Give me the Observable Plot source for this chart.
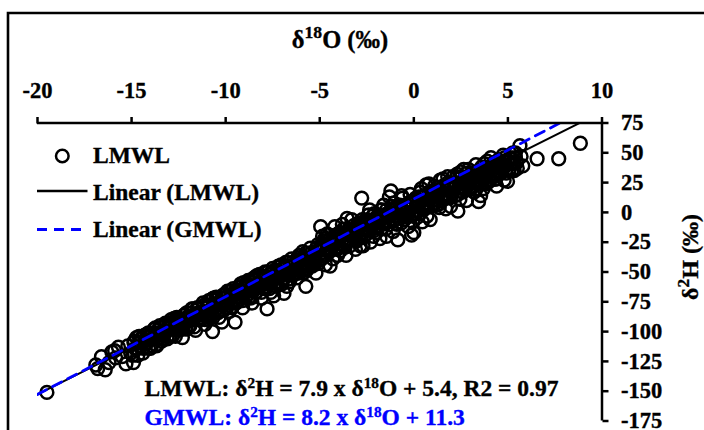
<!DOCTYPE html>
<html><head><meta charset="utf-8">
<script src="https://cdn.jsdelivr.net/npm/d3@7"></script>
<script src="https://cdn.jsdelivr.net/npm/@observablehq/plot@0.6"></script>
<style>body{margin:0;background:#fff} svg text{stroke:currentColor;stroke-width:0.35px}</style>
</head><body><div id="chart"></div>
<script>
const xTicks = [-20, -15, -10, -5, 0, 5, 10];
const yTicks = [75, 50, 25, 0, -25, -50, -75, -100, -125, -150, -175];
const xTitle = "δ18O (‰)";
const yTitle = "δ2H (‰)";
const legendLabels = ["LMWL", "Linear (LMWL)", "Linear (GMWL)"];
const fitNames = ["LMWL", "GMWL"];
const fitSlopes = [7.9, 8.2];
const fitIntercepts = [5.4, 11.3];
const equationTexts = ["LMWL: δ2H = 7.9 x δ18O + 5.4, R2 = 0.97", "GMWL: δ2H = 8.2 x δ18O + 11.3"];
// [δ18O, δ2H] samples: band edges and outliers
const samplesEdge = [
[-19.5,-151],
[-16.9,-128],[-16.8,-131],[-16.6,-121],[-16.4,-132],[-16.2,-126],[-16.05,-117],
[-15.9,-116],[-15.85,-122],[-15.7,-113],[-15.5,-121],[-15.3,-127],[-15.2,-112],[-15.05,-118],
[-14.9,-126],[-14.85,-108],[-14.7,-114],[-14.6,-104],[-14.5,-112],[-14.4,-118],[-14.3,-103],[-14.2,-110],[-14.1,-101],[-14.0,-114],
[-13.9,-106],[-13.8,-98],[-13.7,-111],[-13.6,-102],[-13.5,-95],[-13.4,-108],[-13.3,-99],[-13.2,-93],[-13.1,-104],[-13.0,-97],[-13.45,-101],[-13.75,-104],
[-12.9,-90],[-12.8,-103],[-12.7,-95],[-12.6,-88],[-12.5,-99],[-12.4,-92],[-12.3,-105],[-12.2,-86],[-12.1,-96],[-12.0,-89],[-12.65,-91],[-12.35,-97],[-12.05,-84],
[-11.9,-95],[-11.8,-81],[-11.7,-88],[-11.6,-99],[-11.5,-80],[-11.4,-90],[-11.3,-84],[-11.2,-76],[-11.1,-94],[-11.0,-79],[-11.85,-90],[-11.55,-85],[-11.25,-89],[-11.05,-86],
[-10.9,-74],[-10.8,-87],[-10.7,-100],[-10.6,-78],[-10.5,-71],[-10.4,-84],[-10.3,-76],[-10.2,-92],[-10.1,-69],[-10.0,-80],[-10.95,-83],[-10.65,-72],[-10.35,-88],[-10.15,-78],[-10.55,-82],
[-9.9,-66],[-9.8,-83],[-9.7,-71],[-9.6,-64],[-9.5,-92],[-9.45,-76],[-9.3,-68],[-9.2,-60],[-9.1,-80],[-9.0,-66],[-9.85,-76],[-9.65,-79],[-9.35,-74],[-9.15,-71],[-9.55,-67],[-9.05,-59],
[-8.9,-70],[-8.8,-57],[-8.7,-64],[-8.6,-76],[-8.5,-55],[-8.4,-67],[-8.3,-60],[-8.2,-52],[-8.1,-72],[-8.0,-63],[-8.95,-61],[-8.75,-71],[-8.55,-64],[-8.35,-53],[-8.15,-59],[-8.05,-55],
[-7.9,-50],[-7.8,-81],[-7.7,-60],[-7.6,-67],[-7.5,-47],[-7.4,-56],[-7.3,-62],[-7.2,-45],[-7.1,-53],[-7.0,-60],[-7.85,-64],[-7.65,-52],[-7.45,-70],[-7.25,-50],[-7.05,-44],[-7.55,-58],
[-6.9,-68],[-6.8,-42],[-6.7,-52],[-6.6,-58],[-6.5,-39],[-6.4,-49],[-6.3,-43],[-6.2,-55],[-6.1,-36],[-6.0,-47],[-6.95,-56],[-6.75,-62],[-6.55,-45],[-6.35,-52],[-6.15,-40],[-6.05,-44],
[-5.9,-33],[-5.8,-50],[-5.74,-62],[-5.6,-39],[-5.5,-30],[-5.4,-45],[-5.3,-36],[-5.2,-51],[-5.1,-27],[-5.0,-40],[-5.95,-44],[-5.65,-47],[-5.45,-34],[-5.25,-42],[-5.05,-31],[-5.85,-38],
[-4.95,-12],[-4.9,-39],[-4.8,-28],[-4.7,-44],[-4.6,-18],[-4.5,-33],[-4.4,-25],[-4.3,-39],[-4.2,-12],[-4.1,-30],[-4.0,-20],[-4.85,-20],[-4.65,-32],[-4.45,-45],[-4.25,-22],[-4.05,-36],[-4.75,-24],
[-3.9,-32],[-3.8,-10],[-3.7,-25],[-3.6,-36],[-3.5,-16],[-3.4,-28],[-3.3,-6],[-3.2,-21],[-3.1,-31],[-3.0,-12],[-3.95,-17],[-3.75,-19],[-3.55,-5],[-3.45,-22],[-3.25,-14],[-3.05,-24],[-3.65,-29],
[-2.9,-20],[-2.77,12],[-2.7,-28],[-2.6,-7],[-2.5,-18],[-2.4,-2],[-2.3,-25],[-2.2,-11],[-2.1,-1],[-2.0,-17],[-2.95,-9],[-2.85,-28],[-2.65,-14],[-2.45,-8],[-2.35,2],[-2.15,-20],[-2.05,-6],
[-1.9,-3],[-1.8,-22],[-1.7,-9],[-1.6,6],[-1.5,-14],[-1.4,-1],[-1.3,13],[-1.22,18],[-1.1,-16],[-1.0,4],[-1.95,-12],[-1.75,2],[-1.55,-4],[-1.45,-20],[-1.35,-7],[-1.15,-1],[-1.05,8],
[-0.9,-10],[-0.85,-23],[-0.7,2],[-0.6,12],[-0.5,-6],[-0.4,6],[-0.3,-12],[-0.2,15],[-0.12,-19],[0.0,1],[-0.95,3],[-0.75,-5],[-0.65,14],[-0.55,0],[-0.35,-3],[-0.15,9],[-0.05,-8],[0.0,-17],
[0.1,12],[0.2,-4],[0.3,8],[0.4,20],[0.5,2],[0.6,14],[0.7,-3],[0.8,24],[0.87,-6],[1.0,10],[0.15,1],[0.35,17],[0.45,-8],[0.55,8],[0.65,23],[0.75,5],[0.95,18],
[1.1,22],[1.2,6],[1.3,15],[1.4,27],[1.5,10],[1.6,20],[1.7,3],[1.8,30],[1.9,13],[2.0,22],[1.15,13],[1.35,4],[1.55,28],[1.65,12],[1.85,22],[1.95,5],
[2.1,30],[2.2,14],[2.34,1],[2.4,24],[2.5,34],[2.6,17],[2.7,27],[2.8,10],[2.9,36],[3.0,21],[2.15,22],[2.3,32],[2.45,11],[2.65,36],[2.75,19],[2.95,29],
[3.1,33],[3.2,17],[3.3,40],[3.44,9],[3.5,27],[3.6,38],[3.7,20],[3.8,31],[3.9,43],[4.0,26],[3.15,25],[3.35,31],[3.55,14],[3.75,41],[3.85,24],[3.95,35],
[4.1,46],[4.2,30],[4.3,39],[4.4,22],[4.5,44],[4.6,33],[4.7,41],[4.8,27],[4.9,36],[4.98,26],[4.15,35],[4.35,28],[4.55,38],[4.75,48],[4.85,42],
[5.1,45],[5.2,35],[5.32,41],[5.5,37],[5.64,56],[5.7,47],[5.4,50],[5.79,39],
[6.55,45],[7.7,45],[8.85,58]
];
// [δ18O, δ2H] samples in the dense core of the band
const samplesCore = [
[-14.95,-120],[-14.88,-109],[-14.81,-114],[-14.74,-105],[-14.67,-120],[-14.6,-109],[-14.53,-113],
[-14.45,-105],[-14.38,-114],[-14.31,-108],[-14.24,-110],[-14.17,-102],[-14.1,-114],[-14.03,-103],
[-13.95,-112],[-13.88,-101],[-13.81,-106],[-13.74,-97],[-13.67,-112],[-13.6,-101],[-13.53,-105],
[-13.45,-97],[-13.38,-106],[-13.31,-100],[-13.24,-102],[-13.17,-94],[-13.1,-106],[-13.03,-96],
[-12.95,-104],[-12.88,-93],[-12.81,-98],[-12.74,-89],[-12.67,-104],[-12.6,-93],[-12.53,-98],
[-12.45,-89],[-12.38,-98],[-12.31,-92],[-12.24,-94],[-12.17,-86],[-12.1,-98],[-12.03,-88],
[-11.95,-96],[-11.88,-85],[-11.81,-90],[-11.74,-81],[-11.67,-96],[-11.6,-85],[-11.53,-90],
[-11.45,-81],[-11.38,-90],[-11.31,-84],[-11.24,-86],[-11.17,-78],[-11.1,-90],[-11.03,-80],
[-10.95,-88],[-10.88,-78],[-10.81,-82],[-10.74,-73],[-10.67,-88],[-10.6,-77],[-10.53,-82],
[-10.45,-73],[-10.38,-83],[-10.31,-76],[-10.24,-78],[-10.17,-70],[-10.1,-82],[-10.03,-72],
[-9.95,-80],[-9.88,-70],[-9.81,-74],[-9.74,-66],[-9.67,-80],[-9.6,-69],[-9.53,-74],
[-9.45,-65],[-9.38,-75],[-9.31,-68],[-9.24,-71],[-9.17,-62],[-9.1,-74],[-9.03,-64],
[-8.95,-72],[-8.88,-62],[-8.81,-66],[-8.74,-58],[-8.67,-72],[-8.6,-62],[-8.53,-66],
[-8.45,-57],[-8.38,-67],[-8.31,-60],[-8.24,-63],[-8.17,-54],[-8.1,-67],[-8.03,-56],
[-7.95,-64],[-7.88,-54],[-7.81,-58],[-7.74,-50],[-7.67,-64],[-7.6,-54],[-7.53,-58],
[-7.45,-49],[-7.38,-59],[-7.31,-52],[-7.24,-55],[-7.17,-46],[-7.1,-59],[-7.03,-48],
[-6.95,-56],[-6.88,-46],[-6.81,-50],[-6.74,-42],[-6.67,-56],[-6.6,-46],[-6.53,-50],
[-6.45,-42],[-6.38,-51],[-6.31,-44],[-6.24,-47],[-6.17,-38],[-6.1,-51],[-6.03,-40],
[-5.95,-49],[-5.88,-38],[-5.81,-42],[-5.74,-34],[-5.67,-48],[-5.6,-38],[-5.53,-42],
[-5.45,-34],[-5.38,-43],[-5.31,-37],[-5.24,-39],[-5.17,-30],[-5.1,-43],[-5.03,-32],
[-4.95,-37],[-4.88,-26],[-4.81,-31],[-4.74,-22],[-4.67,-36],[-4.6,-26],[-4.53,-30],
[-4.45,-22],[-4.38,-31],[-4.31,-25],[-4.24,-27],[-4.17,-19],[-4.1,-31],[-4.03,-20],
[-3.95,-29],[-3.88,-18],[-3.81,-23],[-3.74,-14],[-3.67,-29],[-3.6,-18],[-3.53,-22],
[-3.45,-14],[-3.38,-23],[-3.31,-17],[-3.24,-19],[-3.17,-11],[-3.1,-23],[-3.03,-13],
[-2.95,-21],[-2.88,-10],[-2.81,-15],[-2.74,-6],[-2.67,-21],[-2.6,-10],[-2.53,-15],
[-2.45,-6],[-2.38,-15],[-2.31,-9],[-2.24,-11],[-2.17,-3],[-2.1,-15],[-2.03,-5],
[-1.95,-13],[-1.88,-2],[-1.81,-7],[-1.74,2],[-1.67,-13],[-1.6,-2],[-1.53,-7],
[-1.45,2],[-1.38,-8],[-1.31,-1],[-1.24,-3],[-1.17,5],[-1.1,-7],[-1.03,3],
[-0.95,-9],[-0.88,1],[-0.81,-3],[-0.74,6],[-0.67,-9],[-0.6,2],[-0.53,-3],
[-0.45,6],[-0.38,-4],[-0.31,3],[-0.24,0],[-0.17,9],[-0.1,-3],[-0.03,7],
[0.05,-1],[0.12,9],[0.19,5],[0.26,13],[0.33,-1],[0.4,10],[0.47,5],
[0.55,14],[0.62,4],[0.69,11],[0.76,8],[0.83,17],[0.9,5],[0.97,15],
[1.05,7],[1.12,17],[1.19,13],[1.26,21],[1.33,7],[1.4,17],[1.47,13],
[1.55,22],[1.62,12],[1.69,19],[1.76,16],[1.83,25],[1.9,12],[1.97,23],
[2.05,15],[2.12,25],[2.19,21],[2.26,29],[2.33,15],[2.4,25],[2.47,21],
[2.55,30],[2.62,20],[2.69,27],[2.76,24],[2.83,33],[2.9,20],[2.97,31],
[3.05,20],[3.12,30],[3.19,26],[3.26,34],[3.33,20],[3.4,30],[3.47,26],
[3.55,34],[3.62,25],[3.69,32],[3.76,29],[3.83,38],[3.9,25],[3.97,36],
[4.05,27],[4.12,38],[4.19,33],[4.26,42],[4.33,28],[4.4,38],[4.47,34],
[4.55,42],[4.62,33],[4.69,39],[4.76,37],[4.83,46],[4.9,33],[4.97,44],
[5.05,35],[5.12,46],[5.19,41],[5.26,50],[5.33,35],[5.4,46],[5.47,42]
];

const BLUE = "#0000ff";
const FONT = "'Liberation Serif', 'Times New Roman', serif";

const fitLines = fitNames.flatMap((name, i) =>
  [-20, 10].map(x => ({fit: name, x, y: fitSlopes[i] * x + fitIntercepts[i]})));

const samples = samplesEdge.concat(samplesCore);

const plot = Plot.plot({
  width: 704, height: 430,
  marginTop: 122.5, marginRight: 102.5, marginBottom: 9.5, marginLeft: 37,
  x: {domain: [-20, 10]},
  y: {domain: [-175, 75]},
  style: {fontFamily: FONT, fontWeight: "bold", fontSize: "22.5px", background: "white", overflow: "visible"},
  marks: [
    Plot.dot(samples, {x: d => d[0], y: d => d[1], r: 6.4, stroke: "black", strokeWidth: 2.5, fill: "none"}),
    Plot.line(fitLines.filter(d => d.fit === "LMWL"), {x: "x", y: "y", stroke: "black", strokeWidth: 2, clip: true}),
    Plot.line(fitLines.filter(d => d.fit === "GMWL"), {x: "x", y: "y", stroke: BLUE, strokeWidth: 2.8, strokeDasharray: "10,7", clip: true}),
    Plot.ruleY([75], {strokeWidth: 2.5}),
    Plot.ruleX([10], {strokeWidth: 2.5}),
    Plot.axisX(xTicks, {anchor: "top", tickSize: 6.5, tickPadding: 19, tickFormat: d => String(d), strokeWidth: 2.5, label: null}),
    Plot.axisY(yTicks, {anchor: "right", tickSize: 6, tickPadding: 13, tickFormat: d => String(d), strokeWidth: 2.5, label: null})
  ]
});
document.getElementById("chart").appendChild(plot);

const svg = d3.select(plot);
// outer frame
svg.append("path").attr("d", "M8,440V13H720").attr("fill", "none").attr("stroke", "black").attr("stroke-width", 2.6);

function addText(str, x, y, opts = {}) {
  const t = svg.append("text")
    .attr("x", x).attr("y", y)
    .attr("font-family", FONT).attr("font-weight", "bold")
    .attr("font-size", opts.size || 23.5)
    .attr("fill", opts.fill || "black")
    .style("color", opts.fill || "black")
    .attr("text-anchor", opts.anchor || "start");
  if (opts.transform) t.attr("transform", opts.transform).attr("x", 0).attr("y", 0);
  const parts = str.split(/(?<=δ)(18|2)(?=[OH])/);
  parts.forEach((p, i) => {
    const ts = t.append("tspan").text(p);
    if (i % 2 === 1) ts.attr("baseline-shift", "super").attr("font-size", opts.sup || "65%");
  });
  return t;
}

addText(xTitle, 340, 48, {anchor: "middle", size: 24.5, sup: "72%"});
addText(yTitle, 0, 0, {anchor: "middle", size: 24, sup: "72%", transform: "translate(698,257) rotate(-90)"});

// legend
svg.append("circle").attr("cx", 62.3).attr("cy", 156).attr("r", 6.3).attr("fill", "none").attr("stroke", "black").attr("stroke-width", 2.5);
svg.append("line").attr("x1", 37).attr("x2", 87.5).attr("y1", 191).attr("y2", 191).attr("stroke", "black").attr("stroke-width", 2.5);
svg.append("line").attr("x1", 37).attr("x2", 87.5).attr("y1", 229.5).attr("y2", 229.5).attr("stroke", BLUE).attr("stroke-width", 2.8).attr("stroke-dasharray", "10,7");
addText(legendLabels[0], 93, 163.3);
addText(legendLabels[1], 93, 200);
addText(legendLabels[2], 93, 236.7);

// equations
addText(equationTexts[0], 144.6, 396);
addText(equationTexts[1], 144.6, 425, {fill: BLUE});
</script>
</body></html>
